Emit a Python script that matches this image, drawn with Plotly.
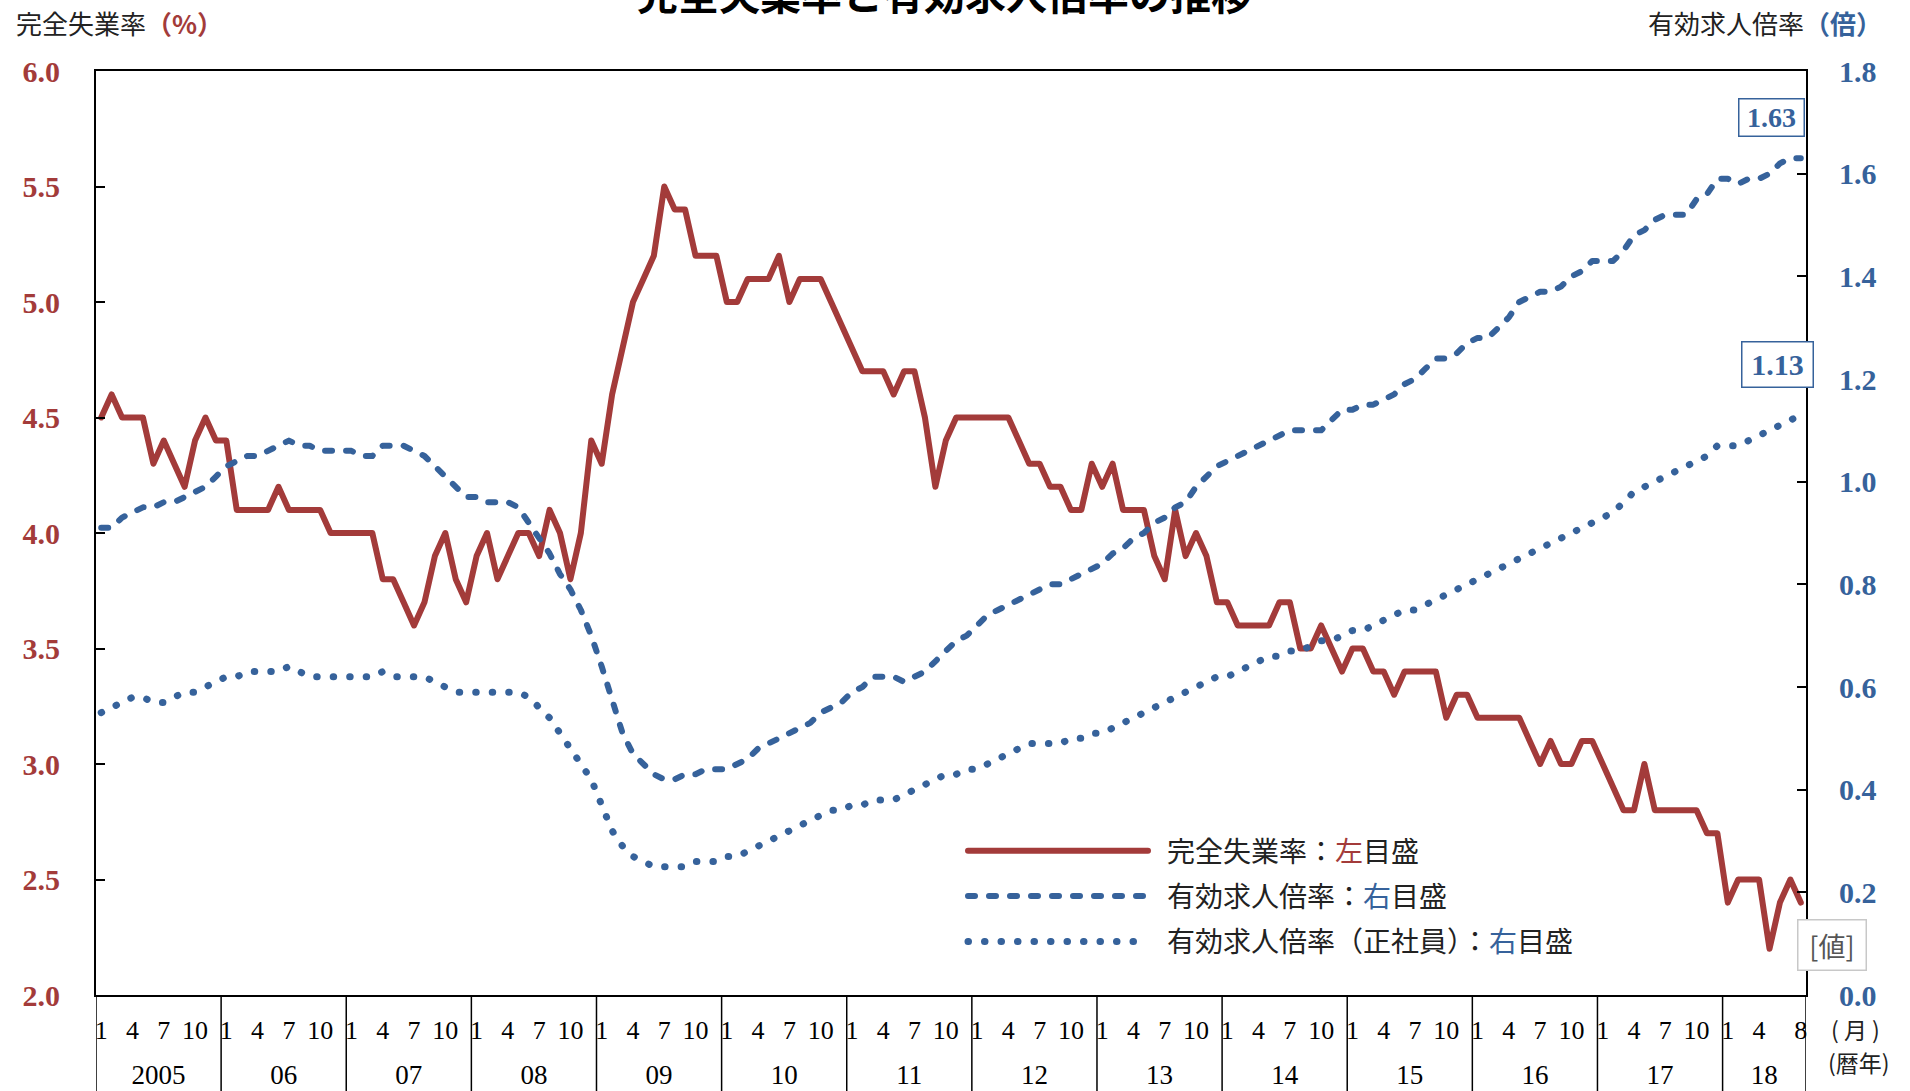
import plotly.graph_objects as go

# ---------------- data ----------------
years = ["2005", "06", "07", "08", "09", "10", "11", "12", "13", "14", "15", "16", "17", "18"]
months_per_year = [12] * 13 + [8]
month_ticks_full = ["1", "4", "7", "10"]
month_ticks_last = ["1", "4", "8"]

# 完全失業率 (%), monthly Jan 2005 - Aug 2018
unemployment = [
    4.5, 4.6, 4.5, 4.5, 4.5, 4.3, 4.4, 4.3, 4.2, 4.4, 4.5, 4.4,   # 2005
    4.4, 4.1, 4.1, 4.1, 4.1, 4.2, 4.1, 4.1, 4.1, 4.1, 4.0, 4.0,   # 2006
    4.0, 4.0, 4.0, 3.8, 3.8, 3.7, 3.6, 3.7, 3.9, 4.0, 3.8, 3.7,   # 2007
    3.9, 4.0, 3.8, 3.9, 4.0, 4.0, 3.9, 4.1, 4.0, 3.8, 4.0, 4.4,   # 2008
    4.3, 4.6, 4.8, 5.0, 5.1, 5.2, 5.5, 5.4, 5.4, 5.2, 5.2, 5.2,   # 2009
    5.0, 5.0, 5.1, 5.1, 5.1, 5.2, 5.0, 5.1, 5.1, 5.1, 5.0, 4.9,   # 2010
    4.8, 4.7, 4.7, 4.7, 4.6, 4.7, 4.7, 4.5, 4.2, 4.4, 4.5, 4.5,   # 2011
    4.5, 4.5, 4.5, 4.5, 4.4, 4.3, 4.3, 4.2, 4.2, 4.1, 4.1, 4.3,   # 2012
    4.2, 4.3, 4.1, 4.1, 4.1, 3.9, 3.8, 4.1, 3.9, 4.0, 3.9, 3.7,   # 2013
    3.7, 3.6, 3.6, 3.6, 3.6, 3.7, 3.7, 3.5, 3.5, 3.6, 3.5, 3.4,   # 2014
    3.5, 3.5, 3.4, 3.4, 3.3, 3.4, 3.4, 3.4, 3.4, 3.2, 3.3, 3.3,   # 2015
    3.2, 3.2, 3.2, 3.2, 3.2, 3.1, 3.0, 3.1, 3.0, 3.0, 3.1, 3.1,   # 2016
    3.0, 2.9, 2.8, 2.8, 3.0, 2.8, 2.8, 2.8, 2.8, 2.8, 2.7, 2.7,   # 2017
    2.4, 2.5, 2.5, 2.5, 2.2, 2.4, 2.5, 2.4,                       # 2018
]

# 有効求人倍率 (倍)
job_ratio = [
    0.91, 0.91, 0.93, 0.94, 0.95, 0.95, 0.96, 0.96, 0.97, 0.98, 0.99, 1.01,
    1.03, 1.04, 1.05, 1.05, 1.06, 1.07, 1.08, 1.07, 1.07, 1.06, 1.06, 1.06,
    1.06, 1.05, 1.05, 1.07, 1.07, 1.07, 1.06, 1.05, 1.03, 1.01, 0.99, 0.97,
    0.97, 0.96, 0.96, 0.96, 0.95, 0.92, 0.89, 0.86, 0.82, 0.79, 0.75, 0.70,
    0.64, 0.57, 0.51, 0.47, 0.45, 0.43, 0.42, 0.42, 0.43, 0.43, 0.44, 0.44,
    0.44, 0.45, 0.46, 0.48, 0.49, 0.50, 0.51, 0.52, 0.53, 0.55, 0.56, 0.57,
    0.59, 0.60, 0.62, 0.62, 0.62, 0.61, 0.62, 0.63, 0.65, 0.67, 0.69, 0.70,
    0.72, 0.74, 0.75, 0.76, 0.77, 0.78, 0.79, 0.80, 0.80, 0.81, 0.82, 0.83,
    0.84, 0.86, 0.87, 0.89, 0.90, 0.92, 0.93, 0.95, 0.96, 0.99, 1.01, 1.03,
    1.04, 1.05, 1.06, 1.07, 1.08, 1.09, 1.10, 1.10, 1.10, 1.10, 1.12, 1.14,
    1.14, 1.15, 1.15, 1.16, 1.17, 1.19, 1.20, 1.22, 1.24, 1.24, 1.25, 1.27,
    1.28, 1.28, 1.30, 1.32, 1.35, 1.36, 1.37, 1.37, 1.38, 1.40, 1.41, 1.43,
    1.43, 1.43, 1.45, 1.48, 1.49, 1.51, 1.52, 1.52, 1.52, 1.55, 1.56, 1.59,
    1.59, 1.58, 1.59, 1.59, 1.60, 1.62, 1.63, 1.63,
]

# 有効求人倍率（正社員） (倍)
job_ratio_regular = [
    0.55, 0.56, 0.57, 0.58, 0.58, 0.57, 0.57, 0.58, 0.59, 0.59, 0.60, 0.61,
    0.62, 0.62, 0.63, 0.63, 0.63, 0.63, 0.64, 0.63, 0.62, 0.62, 0.62, 0.62,
    0.62, 0.62, 0.62, 0.63, 0.62, 0.62, 0.62, 0.62, 0.61, 0.60, 0.59, 0.59,
    0.59, 0.59, 0.59, 0.59, 0.59, 0.58, 0.56, 0.54, 0.51, 0.48, 0.45, 0.42,
    0.37, 0.32, 0.29, 0.27, 0.26, 0.25, 0.25, 0.25, 0.25, 0.26, 0.26, 0.26,
    0.27, 0.27, 0.28, 0.29, 0.30, 0.31, 0.32, 0.33, 0.34, 0.35, 0.36, 0.36,
    0.37, 0.37, 0.38, 0.38, 0.38, 0.39, 0.40, 0.41, 0.42, 0.43, 0.43, 0.44,
    0.44, 0.45, 0.46, 0.47, 0.48, 0.49, 0.49, 0.49, 0.49, 0.50, 0.50, 0.51,
    0.51, 0.52, 0.53, 0.54, 0.55, 0.56, 0.57, 0.58, 0.59, 0.60, 0.61, 0.62,
    0.62, 0.63, 0.64, 0.65, 0.66, 0.66, 0.67, 0.67, 0.68, 0.69, 0.69, 0.70,
    0.71, 0.71, 0.72, 0.73, 0.74, 0.75, 0.75, 0.76, 0.77, 0.78, 0.79, 0.80,
    0.81, 0.82, 0.83, 0.84, 0.85, 0.86, 0.87, 0.88, 0.89, 0.90, 0.91, 0.92,
    0.93, 0.94, 0.96, 0.98, 0.99, 1.00, 1.01, 1.02, 1.03, 1.04, 1.05, 1.07,
    1.07, 1.07, 1.08, 1.09, 1.10, 1.11, 1.12, 1.13,
]

left_ticks = [2.0, 2.5, 3.0, 3.5, 4.0, 4.5, 5.0, 5.5, 6.0]
right_ticks = [0.0, 0.2, 0.4, 0.6, 0.8, 1.0, 1.2, 1.4, 1.6, 1.8]

# ---------------- derived axes helpers ----------------
n = len(unemployment)
x = list(range(n))
month_vals, month_text = [], []
year_centers, year_bounds = [], []
start = 0
for y, m in zip(years, months_per_year):
    labels = month_ticks_full if m == 12 else month_ticks_last
    for lab in labels:
        month_vals.append(start + int(lab) - 1)
        month_text.append(lab)
    year_centers.append(start + (m - 1) / 2)
    year_bounds.append(start - 0.5)
    start += m
year_bounds.append(n - 0.5)

RED = "#A33B3A"
BLUE = "#36629B"
JP = "Noto Sans CJK JP"
SERIF = "Liberation Serif"
GAP = "\u2002"

fig = go.Figure()
fig.add_trace(go.Scatter(
    x=x, y=unemployment, mode="lines", yaxis="y",
    line=dict(color=RED, width=6),
    name=GAP + "完全失業率：<span style='color:%s'>左</span>目盛" % RED,
    legendgroup="a",
))
fig.add_trace(go.Scatter(
    x=x, y=job_ratio, mode="lines", yaxis="y2",
    line=dict(color=BLUE, width=6, dash="7px,14px"),
    name=GAP + "有効求人倍率：<span style='color:%s'>右</span>目盛" % BLUE,
    legendgroup="b",
))
fig.add_trace(go.Scatter(
    x=x, y=job_ratio_regular, mode="lines", yaxis="y2",
    line=dict(color=BLUE, width=7, dash="0.5px,16px"),
    name=GAP + "有効求人倍率（正社員）：<span style='color:%s'>右</span>目盛" % BLUE,
    legendgroup="c",
))

# invisible trace on xaxis2 so the year axis is drawn
fig.add_trace(go.Scatter(x=[year_centers[0]], y=[None], xaxis="x2", yaxis="y",
                         showlegend=False, hoverinfo="skip"))

W, H = 1910, 1091
L, R, T, B = 96, 104, 71, 96
PW, PH = W - L - R, H - T - B

def px(xp):
    return (xp - L) / PW

def py(yp):
    return (H - B - yp) / PH

shapes = []
for b in year_bounds:
    shapes.append(dict(type="line", xref="x", yref="paper", x0=b, x1=b,
                       y0=0, y1=-(B + 5) / PH, line=dict(color="black", width=1.5)))

annotations = [
    dict(text="<b>完全失業率と有効求人倍率の推移</b>", xref="paper", yref="paper",
         x=px(944), y=py(-8), xanchor="center", yanchor="middle", showarrow=False,
         font=dict(family=JP, size=41, color="black")),
    dict(text="完全失業率<span style='color:%s'><b>（%%）</b></span>" % RED,
         xref="paper", yref="paper", x=px(14), y=py(22), xanchor="left",
         yanchor="middle", showarrow=False, font=dict(family=JP, size=26, color="#222")),
    dict(text="有効求人倍率<span style='color:%s'><b>（倍）</b></span>" % BLUE,
         xref="paper", yref="paper", x=px(1884), y=py(22), xanchor="right",
         yanchor="middle", showarrow=False, font=dict(family=JP, size=26, color="#222")),
    dict(text="<b>%.2f</b>" % job_ratio[-1], xref="paper", yref="paper",
         x=px(1771), y=py(118), xanchor="center", yanchor="middle", showarrow=False,
         font=dict(family=SERIF, size=28, color=BLUE), bgcolor="white",
         bordercolor=BLUE, borderwidth=1.5, borderpad=2, width=60, height=32),
    dict(text="<b>%.2f</b>" % job_ratio_regular[-1], xref="paper", yref="paper",
         x=px(1777), y=py(364), xanchor="center", yanchor="middle", showarrow=False,
         font=dict(family=SERIF, size=30, color=BLUE), bgcolor="white",
         bordercolor=BLUE, borderwidth=1.5, borderpad=2, width=66, height=40),
    dict(text="[値]", xref="paper", yref="paper",
         x=px(1832), y=py(945), xanchor="center", yanchor="middle", showarrow=False,
         font=dict(family=JP, size=27, color="#555"), bgcolor="white",
         bordercolor="#c8c8c8", borderwidth=1.5, borderpad=2, width=63, height=45),
    dict(text="( 月 )", xref="paper", yref="paper", x=px(1855), y=py(1029),
         xanchor="center", yanchor="middle", showarrow=False,
         font=dict(family=JP, size=23, color="#222")),
    dict(text="(暦年)", xref="paper", yref="paper", x=px(1859), y=py(1062),
         xanchor="center", yanchor="middle", showarrow=False,
         font=dict(family=JP, size=23, color="#222")),
]

fig.update_layout(
    width=W, height=H,
    margin=dict(l=L, r=R, t=T, b=B, pad=0, autoexpand=False),
    paper_bgcolor="white", plot_bgcolor="white",
    showlegend=True,
    legend=dict(x=px(963), y=py(826), xanchor="left", yanchor="top",
                bgcolor="rgba(0,0,0,0)", borderwidth=0, itemwidth=180,
                tracegroupgap=6, font=dict(family=JP, size=28, color="#222"),
                traceorder="grouped"),
    xaxis=dict(range=[-0.5, n - 0.5], showgrid=False, zeroline=False, automargin=False,
               showline=True, linecolor="black", linewidth=2, mirror=True,
               tickmode="array", tickvals=month_vals, ticktext=month_text,
               ticks="", tickfont=dict(family=SERIF, size=26, color="black"),
               ticklabelstandoff=11),
    xaxis2=dict(range=[-0.5, n - 0.5], overlaying="x", anchor="y", side="bottom",
                showgrid=False, zeroline=False, showline=False, automargin=False,
                tickmode="array", tickvals=year_centers, ticktext=years, ticks="",
                tickfont=dict(family=SERIF, size=27, color="black"),
                ticklabelstandoff=61),
    yaxis=dict(range=[2.0, 6.0], tickmode="array", tickvals=left_ticks,
               ticktext=["%.1f" % v for v in left_ticks], automargin=False,
               showgrid=False, zeroline=False, showline=True, linecolor="black",
               linewidth=2, ticks="inside", ticklen=9, tickwidth=2, tickcolor="black",
               tickfont=dict(family=SERIF, size=30, color=RED, weight="bold"),
               ticklabelstandoff=28),
    yaxis2=dict(range=[0.0, 1.8], overlaying="y", side="right", anchor="x",
                tickmode="array", tickvals=right_ticks, automargin=False,
                ticktext=["%.1f" % v for v in right_ticks],
                showgrid=False, zeroline=False, showline=True, linecolor="black",
                linewidth=2, ticks="inside", ticklen=9, tickwidth=2, tickcolor="black",
                tickfont=dict(family=SERIF, size=30, color=BLUE, weight="bold"),
                ticklabelstandoff=25),
    shapes=shapes,
    annotations=annotations,
)

post = """
var gd = document.getElementById('{plot_id}');
function fixCaps(){
  document.querySelectorAll('path.js-line').forEach(function(p){
    p.style.strokeLinecap = 'round';
    p.style.strokeLinejoin = 'round';
  });
}
fixCaps();
if (gd && gd.on) { gd.on('plotly_afterplot', fixCaps); }
"""

fig.write_html("out.html", post_script=post)
